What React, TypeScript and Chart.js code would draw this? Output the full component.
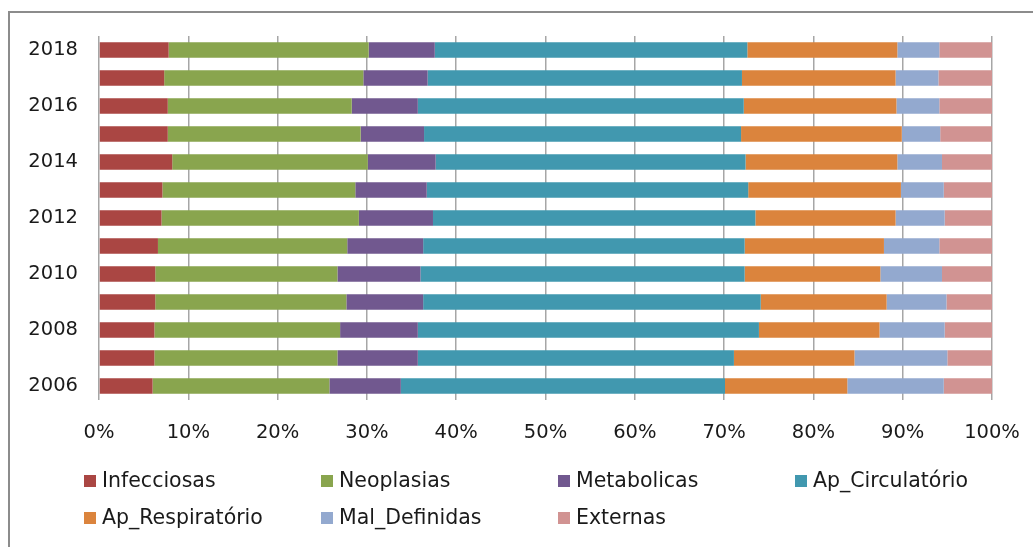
import { useEffect, useRef } from 'react';
import { Chart, registerables } from 'chart.js';

Chart.register(...registerables);

const years = ['2006', '2007', '2008', '2009', '2010', '2011', '2012', '2013', '2014', '2015', '2016', '2017', '2018'];

const infecciosas = [6.0, 6.2, 6.2, 6.3, 6.3, 6.6, 7.0, 7.1, 8.2, 7.7, 7.7, 7.3, 7.8];
const neoplasias = [19.8, 20.5, 20.8, 21.4, 20.4, 21.2, 22.1, 21.6, 21.9, 21.6, 20.6, 22.3, 22.4];
const metabolicas = [8.0, 9.0, 8.7, 8.6, 9.3, 8.5, 8.3, 8.0, 7.6, 7.1, 7.4, 7.2, 7.4];
const apCirculatorio = [36.3, 35.4, 38.2, 37.8, 36.3, 36.0, 36.1, 36.0, 34.7, 35.5, 36.5, 35.2, 35.0];
const apRespiratorio = [13.7, 13.5, 13.5, 14.1, 15.2, 15.6, 15.7, 17.1, 17.0, 18.0, 17.1, 17.2, 16.8];
const malDefinidas = [10.8, 10.4, 7.3, 6.7, 6.9, 6.2, 5.5, 4.8, 5.0, 4.3, 4.8, 4.8, 4.7];
const externas = [5.4, 5.0, 5.3, 5.1, 5.6, 5.9, 5.3, 5.4, 5.6, 5.8, 5.9, 6.0, 5.9];

const seriesNames = ['Infecciosas', 'Neoplasias', 'Metabolicas', 'Ap_Circulatório', 'Ap_Respiratório', 'Mal_Definidas', 'Externas'];
const seriesValues = [infecciosas, neoplasias, metabolicas, apCirculatorio, apRespiratorio, malDefinidas, externas];
const seriesColors = ['#AA4643', '#89A54E', '#71588F', '#4198AF', '#DB843D', '#93A9CF', '#D19392'];

const FONT = '"DejaVu Sans", sans-serif';
const TEXT = '#1a1a1a';

export default function App() {
  const ref = useRef<HTMLCanvasElement>(null);

  useEffect(() => {
    if (!ref.current) return;
    const legendPlugin = {
      id: 'gridLegend',
      afterDraw(chart: any) {
        const ctx = chart.ctx;
        ctx.save();
        ctx.font = `20.5px ${FONT}`;
        ctx.textBaseline = 'middle';
        ctx.textAlign = 'left';
        chart.data.datasets.forEach((ds: any, i: number) => {
          const col = i % 4;
          const row = Math.floor(i / 4);
          const x = 84 + col * 237;
          const y = 481 + row * 37;
          ctx.fillStyle = ds.backgroundColor;
          ctx.fillRect(x, y - 6, 12, 12);
          ctx.fillStyle = TEXT;
          ctx.fillText(ds.label, x + 18, y + 1);
        });
        ctx.restore();
      },
    };

    const chart = new Chart(ref.current, {
      type: 'bar',
      data: {
        labels: years,
        datasets: seriesNames.map((name, i) => ({
          label: name,
          data: seriesValues[i],
          backgroundColor: seriesColors[i],
          borderWidth: 0,
          categoryPercentage: 1,
          barPercentage: 0.56,
        })),
      },
      options: {
        indexAxis: 'y',
        animation: false,
        responsive: false,
        maintainAspectRatio: false,
        layout: { padding: { top: 36, right: 41, bottom: 0, left: 0 } },
        plugins: {
          legend: { display: false },
          tooltip: { enabled: false },
        },
        scales: {
          x: {
            stacked: true,
            min: 0,
            max: 100,
            ticks: {
              stepSize: 10,
              callback: (v: any) => v + '%',
              font: { family: FONT, size: 19.5 },
              color: TEXT,
              padding: 21,
              maxRotation: 0,
            },
            grid: { color: '#a6a6a6', lineWidth: 1.5, drawTicks: false },
            border: { display: false },
            afterFit: (s: any) => {
              s.height = 147;
              s.paddingLeft = 0;
              s.paddingRight = 0;
            },
          },
          y: {
            stacked: true,
            reverse: true,
            grid: { display: false, drawTicks: false },
            border: { display: false },
            ticks: {
              autoSkip: false,
              font: { family: FONT, size: 19.5 },
              color: TEXT,
              padding: 21,
              callback: function (this: any, v: any) {
                const lab = this.getLabelForValue(v);
                return Number(lab) % 2 === 0 ? lab : '';
              },
            },
            afterFit: (s: any) => {
              s.width = 99;
              s.paddingTop = 0;
              s.paddingBottom = 0;
            },
          },
        },
      },
      plugins: [legendPlugin],
    } as any);
    return () => chart.destroy();
  }, []);

  return (
    <div style={{ position: 'fixed', left: 0, top: 0, width: 1033, height: 547, background: '#fff', overflow: 'hidden' }}>
      <div
        style={{
          position: 'absolute',
          left: 8,
          top: 11,
          width: 1100,
          height: 600,
          borderTop: '2px solid #8c8c8c',
          borderLeft: '2px solid #8c8c8c',
        }}
      />
      <canvas ref={ref} width={1033} height={547} style={{ position: 'absolute', left: 0, top: 0, display: 'block' }} />
    </div>
  );
}
